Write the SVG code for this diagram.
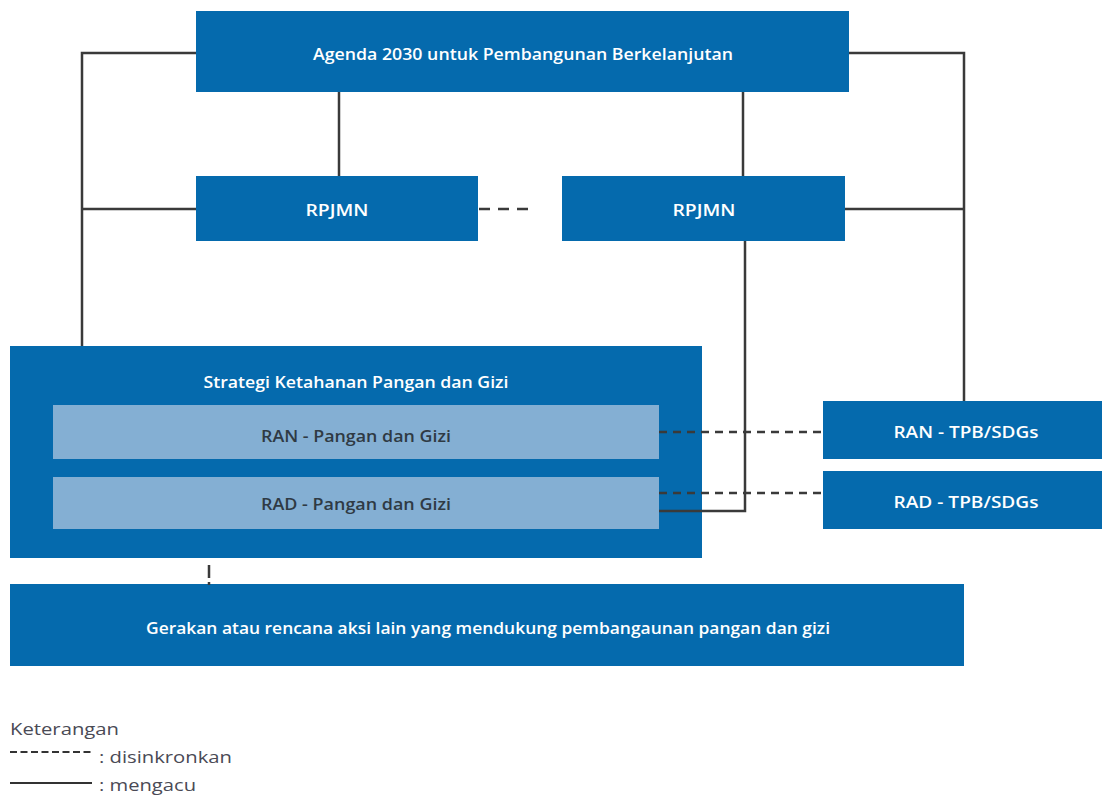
<svg xmlns="http://www.w3.org/2000/svg" width="1102" height="796" viewBox="0 0 1102 796">
<style>
.box{fill:#056aad}
.inner{fill:#84afd3}
.t{font-family:"Open Sans","Liberation Sans",sans-serif;font-weight:600;font-size:17px;fill:#ffffff;text-anchor:middle;dominant-baseline:central}
.ti{font-family:"Open Sans","Liberation Sans",sans-serif;font-weight:600;font-size:17px;fill:#2f3a44;text-anchor:middle;dominant-baseline:central}
.ln{fill:none;stroke:#3a3a3a;stroke-width:2.5}
.dash{fill:none;stroke:#3a3a3a;stroke-width:2.5;stroke-dasharray:8 6}
.leg{font-family:"Open Sans","Liberation Sans",sans-serif;font-size:17px;fill:#4a4a55}
</style>
<rect width="1102" height="796" fill="#ffffff"/>
<g id="agenda">
<rect class="box" x="196" y="11" width="653" height="81"/>
<text class="t" x="523" y="53" textLength="420" lengthAdjust="spacingAndGlyphs">Agenda 2030 untuk Pembangunan Berkelanjutan</text>
</g>
<g id="rpjmn-left">
<rect class="box" x="196" y="176" width="282" height="65"/>
<text class="t" x="337" y="209" textLength="63" lengthAdjust="spacingAndGlyphs">RPJMN</text>
</g>
<g id="rpjmn-right">
<rect class="box" x="562" y="176" width="283" height="65"/>
<text class="t" x="704" y="209" textLength="63" lengthAdjust="spacingAndGlyphs">RPJMN</text>
</g>
<g id="strategi">
<rect class="box" x="10" y="346" width="692" height="212"/>
<text class="t" x="356" y="381" textLength="305" lengthAdjust="spacingAndGlyphs">Strategi Ketahanan Pangan dan Gizi</text>
</g>
<g id="ran-pangan">
<rect class="inner" x="53" y="405" width="606" height="54"/>
<text class="ti" x="356" y="435" textLength="190" lengthAdjust="spacingAndGlyphs">RAN - Pangan dan Gizi</text>
</g>
<g id="rad-pangan">
<rect class="inner" x="53" y="477" width="606" height="52"/>
<text class="ti" x="356" y="503" textLength="190" lengthAdjust="spacingAndGlyphs">RAD - Pangan dan Gizi</text>
</g>
<g id="ran-tpb">
<rect class="box" x="823" y="401" width="279" height="58"/>
<text class="t" x="966" y="431" textLength="145" lengthAdjust="spacingAndGlyphs">RAN - TPB/SDGs</text>
</g>
<g id="rad-tpb">
<rect class="box" x="823" y="471" width="279" height="58"/>
<text class="t" x="966" y="501" textLength="145" lengthAdjust="spacingAndGlyphs">RAD - TPB/SDGs</text>
</g>
<g id="gerakan">
<rect class="box" x="10" y="584" width="954" height="82"/>
<text class="t" x="488" y="627" textLength="684" lengthAdjust="spacingAndGlyphs">Gerakan atau rencana aksi lain yang mendukung pembangaunan pangan dan gizi</text>
</g>
<g id="connectors">
<path class="ln" d="M196,53 H82 V346"/>
<path class="ln" d="M82,209 H196"/>
<path class="ln" d="M339,92 V176"/>
<path class="ln" d="M743,92 V176"/>
<path class="ln" d="M849,53 H964 V401"/>
<path class="ln" d="M845,209 H964"/>
<path class="ln" d="M745,241 V511 H659"/>
<path class="dash" style="stroke-dasharray:11 8" d="M479,209 H530"/>
<path class="dash" d="M659,432 H823"/>
<path class="dash" d="M659,493 H823"/>
<path class="dash" style="stroke-dasharray:13 4 3 20" d="M209,565 V585"/>
</g>
<g id="legend">
<text class="leg" x="10" y="735" textLength="109" lengthAdjust="spacingAndGlyphs">Keterangan</text>
<path fill="none" stroke="#333" stroke-width="2" stroke-dasharray="7 3.5" d="M10,752 H92"/>
<text class="leg" x="99" y="763" textLength="133" lengthAdjust="spacingAndGlyphs">: disinkronkan</text>
<path fill="none" stroke="#333" stroke-width="2" d="M10,783 H92"/>
<text class="leg" x="99" y="791" textLength="97" lengthAdjust="spacingAndGlyphs">: mengacu</text>
</g>
</svg>
